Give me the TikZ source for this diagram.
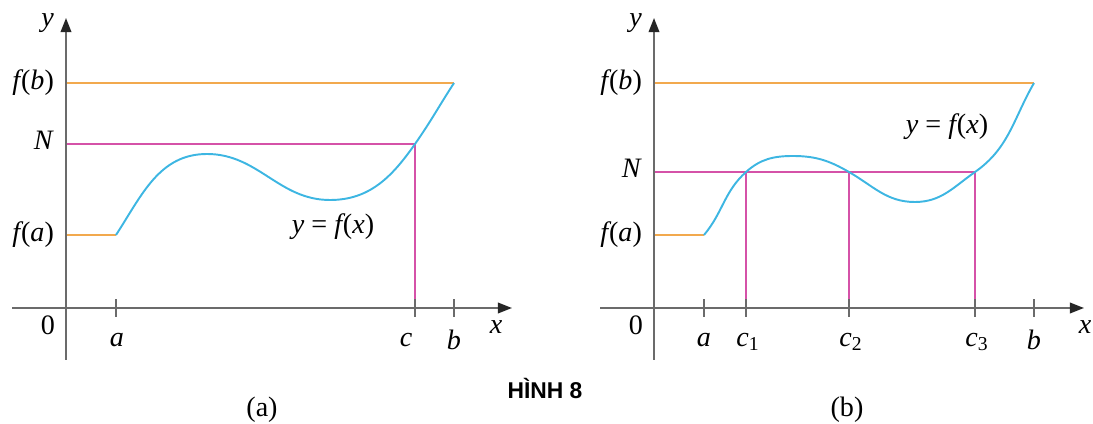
\documentclass[tikz,border=0pt]{standalone}
\usepackage{fontspec}
\setmainfont{Liberation Serif}
\setsansfont{Liberation Sans}
\usetikzlibrary{arrows.meta}
\usetikzlibrary{positioning}
\definecolor{axisgray}{HTML}{6B6B6B}
\definecolor{levelorange}{HTML}{F2A94E}
\definecolor{levelpink}{HTML}{D552A8}
\definecolor{curveblue}{HTML}{3DB6E2}
\newcommand{\fof}[1]{\textit{f\kern0.5pt}(\textit{#1})}

\begin{document}
\begin{tikzpicture}[x=0.02cm,y=0.02cm,
    axisline/.style={draw=axisgray,line width=1pt,-{Triangle[length=8pt,width=6pt,color=black!85]}},
    tickline/.style={draw=axisgray,line width=1pt},
    flevel/.style={draw=levelorange,line width=1.1pt},
    nlevel/.style={draw=levelpink,line width=1.1pt},
    graph/.style={draw=curveblue,line width=1.1pt},
    lbl/.style={font=\fontsize{16}{18}\selectfont,inner sep=1pt}]
\useasboundingbox (0,0) rectangle (1093,423);

\begin{scope}
    \coordinate (O) at (66,115);
    \coordinate (ytop) at (66,405);
    \coordinate (ybot) at (66,63);
    \coordinate (xleft) at (12,115);
    \coordinate (xright) at (512,115);
    \coordinate (fa0) at (66,188);
    \coordinate (A) at (116,188);
    \coordinate (fb0) at (66,340);
    \coordinate (B) at (454,340);
    \coordinate (N0) at (66,279);
    \coordinate (C) at (415,279);
    \coordinate (ta) at (116,115);
    \coordinate (tb) at (454,115);
    \coordinate (tc) at (415,115);

    \draw[flevel] (fb0) -- (B);
    \draw[flevel] (fa0) -- (A);
    \draw[nlevel] (N0) -- (C) -- (tc);
    \draw[axisline] (xleft) -- (xright);
    \draw[axisline] (ybot) -- (ytop);
    \draw[tickline] ([yshift=-5]ta) -- ([yshift=5]ta);
    \draw[tickline] ([yshift=-5]tb) -- ([yshift=5]tb);
    \draw[tickline] ([yshift=-5]tc) -- ([yshift=5]tc);
    \draw[graph] (A) to[out=57,in=180] (207,269) to[out=0,in=180] (330,223)
        to[out=0,in=235] (C) to[out=55,in=237] (B);

    \node[lbl,anchor=east] (ya) at (56,400) {\textit{y}};
    \node[lbl,anchor=east] (fba) at (56,340) {\fof{b}};
    \node[lbl,anchor=east] (Na) at (56,283) {\textit{N}};
    \node[lbl,anchor=east] (faa) at (56,188) {\fof{a}};
    \node[lbl] (zeroa) at (48,98) {0};
    \node[lbl] (aa) at (117,83) {\textit{a}};
    \node[lbl] (ca) at (406,83) {\textit{c}};
    \node[lbl] (ba) at (454,83) {\textit{b}};
    \node[lbl] (xa) at (496,96) {\textit{x}};
    \node[lbl] (grapha) at (333,196) {\textit{y} = \fof{x}};
    \node[lbl] (capa) at (262,13) {(a)};
\end{scope}

\node[font=\sffamily\bfseries\fontsize{13}{15}\selectfont] (fig) at (545,35) {HÌNH 8};

\begin{scope}[xshift=588*0.02cm]
    \coordinate (O) at (66,115);
    \coordinate (ytop) at (66,405);
    \coordinate (ybot) at (66,63);
    \coordinate (xleft) at (12,115);
    \coordinate (xright) at (496,115);
    \coordinate (fa0) at (66,188);
    \coordinate (A) at (116,188);
    \coordinate (fb0) at (66,340);
    \coordinate (B) at (446,340);
    \coordinate (N0) at (66,251);
    \coordinate (C1) at (158,251);
    \coordinate (C2) at (261,251);
    \coordinate (C3) at (387,251);
    \coordinate (ta) at (116,115);
    \coordinate (tb) at (446,115);
    \coordinate (tc1) at (158,115);
    \coordinate (tc2) at (261,115);
    \coordinate (tc3) at (387,115);

    \draw[flevel] (fb0) -- (B);
    \draw[flevel] (fa0) -- (A);
    \draw[nlevel] (N0) -- (C3);
    \draw[nlevel] (C1) -- (tc1);
    \draw[nlevel] (C2) -- (tc2);
    \draw[nlevel] (C3) -- (tc3);
    \draw[axisline] (xleft) -- (xright);
    \draw[axisline] (ybot) -- (ytop);
    \draw[tickline] ([yshift=-5]ta) -- ([yshift=5]ta);
    \draw[tickline] ([yshift=-5]tb) -- ([yshift=5]tb);
    \draw[tickline] ([yshift=-5]tc1) -- ([yshift=5]tc1);
    \draw[tickline] ([yshift=-5]tc2) -- ([yshift=5]tc2);
    \draw[tickline] ([yshift=-5]tc3) -- ([yshift=5]tc3);
    \draw[graph] (A) to[out=50,in=222] (C1) to[out=42,in=180] (205,267)
        to[out=0,in=150] (C2) to[out=-30,in=180] (327,221)
        to[out=0,in=215] (C3) to[out=35,in=240] (B);

    \node[lbl,anchor=east] (yb) at (56,400) {\textit{y}};
    \node[lbl,anchor=east] (fbb) at (56,340) {\fof{b}};
    \node[lbl,anchor=east] (Nb) at (56,255) {\textit{N}};
    \node[lbl,anchor=east] (fab) at (56,188) {\fof{a}};
    \node[lbl] (zerob) at (48,98) {0};
    \node[lbl] (ab) at (116,83) {\textit{a}};
    \node[lbl] (c1b) at (160,81) {\textit{c}\textsubscript{1}};
    \node[lbl] (c2b) at (263,81) {\textit{c}\textsubscript{2}};
    \node[lbl] (c3b) at (389,81) {\textit{c}\textsubscript{3}};
    \node[lbl] (bb) at (446,83) {\textit{b}};
    \node[lbl] (xb) at (497,96) {\textit{x}};
    \node[lbl] (graphb) at (359,296) {\textit{y} = \fof{x}};
    \node[lbl] (capb) at (259,13) {(b)};
\end{scope}
\end{tikzpicture}
\end{document}
